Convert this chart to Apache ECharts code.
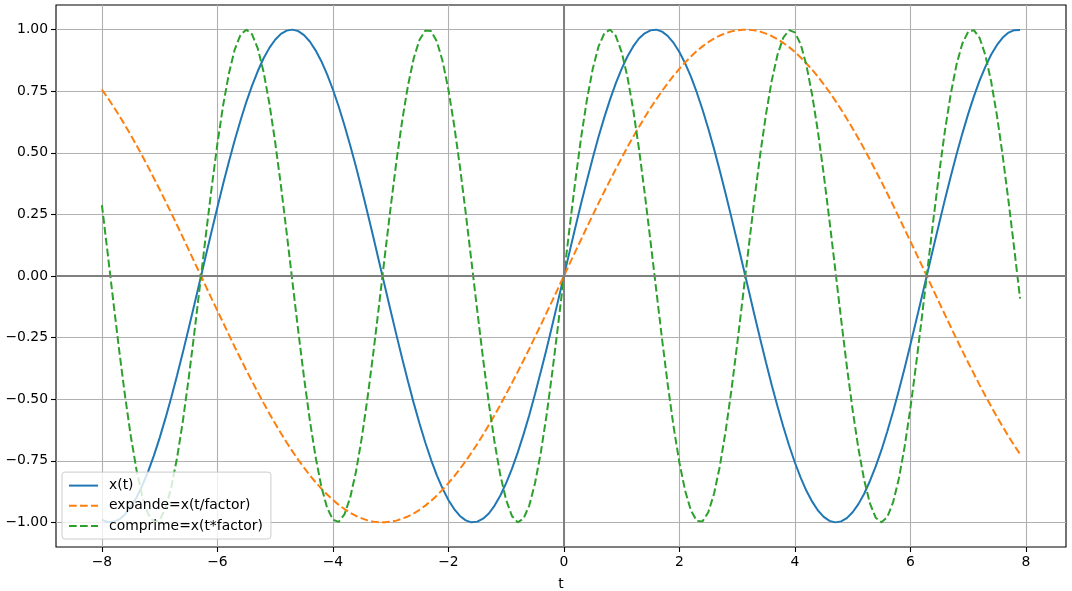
<!DOCTYPE html>
<html>
<head>
<meta charset="utf-8">
<script src="https://cdn.jsdelivr.net/npm/echarts@6/dist/echarts.min.js"></script>
<style>html,body{margin:0;padding:0;background:#fff}#c{width:1072px;height:591px}</style>
</head>
<body>
<div id="c"></div>
<script>
const t = [-8,-7.9,-7.8,-7.7,-7.6,-7.5,-7.4,-7.3,-7.2,-7.1,-7,-6.9,-6.8,-6.7,-6.6,-6.5,-6.4,-6.3,-6.2,-6.1,-6,-5.9,-5.8,-5.7,-5.6,-5.5,-5.4,-5.3,-5.2,-5.1,-5,-4.9,-4.8,-4.7,-4.6,-4.5,-4.4,-4.3,-4.2,-4.1,-4,-3.9,-3.8,-3.7,-3.6,-3.5,-3.4,-3.3,-3.2,-3.1,-3,-2.9,-2.8,-2.7,-2.6,-2.5,-2.4,-2.3,-2.2,-2.1,-2,-1.9,-1.8,-1.7,-1.6,-1.5,-1.4,-1.3,-1.2,-1.1,-1,-0.9,-0.8,-0.7,-0.6,-0.5,-0.4,-0.3,-0.2,-0.1,0,0.1,0.2,0.3,0.4,0.5,0.6,0.7,0.8,0.9,1,1.1,1.2,1.3,1.4,1.5,1.6,1.7,1.8,1.9,2,2.1,2.2,2.3,2.4,2.5,2.6,2.7,2.8,2.9,3,3.1,3.2,3.3,3.4,3.5,3.6,3.7,3.8,3.9,4,4.1,4.2,4.3,4.4,4.5,4.6,4.7,4.8,4.9,5,5.1,5.2,5.3,5.4,5.5,5.6,5.7,5.8,5.9,6,6.1,6.2,6.3,6.4,6.5,6.6,6.7,6.8,6.9,7,7.1,7.2,7.3,7.4,7.5,7.6,7.7,7.8,7.9];
const xt = [-0.989,-0.999,-0.998,-0.988,-0.968,-0.938,-0.899,-0.850,-0.794,-0.729,-0.657,-0.578,-0.494,-0.405,-0.312,-0.215,-0.117,-0.017,0.083,0.182,0.279,0.374,0.465,0.551,0.631,0.706,0.773,0.832,0.884,0.926,0.959,0.983,0.996,1.000,0.994,0.978,0.952,0.916,0.872,0.818,0.757,0.688,0.612,0.530,0.443,0.351,0.256,0.158,0.058,-0.042,-0.141,-0.239,-0.335,-0.427,-0.516,-0.599,-0.676,-0.746,-0.809,-0.863,-0.909,-0.946,-0.974,-0.992,-1.000,-0.997,-0.985,-0.964,-0.932,-0.891,-0.841,-0.783,-0.717,-0.644,-0.565,-0.479,-0.389,-0.296,-0.199,-0.100,
  0,0.100,0.199,0.296,0.389,0.479,0.565,0.644,0.717,0.783,0.841,0.891,0.932,0.964,0.985,0.997,1.000,0.992,0.974,0.946,0.909,0.863,0.809,0.746,0.676,0.599,0.516,0.427,0.335,0.239,0.141,0.042,-0.058,-0.158,-0.256,-0.351,-0.443,-0.530,-0.612,-0.688,-0.757,-0.818,-0.872,-0.916,-0.952,-0.978,-0.994,-1.000,-0.996,-0.983,-0.959,-0.926,-0.884,-0.832,-0.773,-0.706,-0.631,-0.551,-0.465,-0.374,-0.279,-0.182,-0.083,0.017,0.117,0.215,0.312,0.405,0.494,0.578,0.657,0.729,0.794,0.850,0.899,0.938,0.968,0.988,0.998,0.999];
const expande = [0.757,0.723,0.688,0.651,0.612,0.572,0.530,0.487,0.443,0.397,0.351,0.304,0.256,0.207,0.158,0.108,0.058,0.008,-0.042,-0.092,-0.141,-0.190,-0.239,-0.288,-0.335,-0.382,-0.427,-0.472,-0.516,-0.558,-0.599,-0.638,-0.676,-0.712,-0.746,-0.778,-0.809,-0.837,-0.863,-0.887,-0.909,-0.929,-0.946,-0.961,-0.974,-0.984,-0.992,-0.997,-1.000,-1.000,-0.997,-0.993,-0.985,-0.976,-0.964,-0.949,-0.932,-0.913,-0.891,-0.867,-0.841,-0.813,-0.783,-0.751,-0.717,-0.682,-0.644,-0.605,-0.565,-0.523,-0.479,-0.435,-0.389,-0.343,-0.296,-0.247,-0.199,-0.149,-0.100,-0.050,
  0,0.050,0.100,0.149,0.199,0.247,0.296,0.343,0.389,0.435,0.479,0.523,0.565,0.605,0.644,0.682,0.717,0.751,0.783,0.813,0.841,0.867,0.891,0.913,0.932,0.949,0.964,0.976,0.985,0.993,0.997,1.000,1.000,0.997,0.992,0.984,0.974,0.961,0.946,0.929,0.909,0.887,0.863,0.837,0.809,0.778,0.746,0.712,0.676,0.638,0.599,0.558,0.516,0.472,0.427,0.382,0.335,0.288,0.239,0.190,0.141,0.092,0.042,-0.008,-0.058,-0.108,-0.158,-0.207,-0.256,-0.304,-0.351,-0.397,-0.443,-0.487,-0.530,-0.572,-0.612,-0.651,-0.688,-0.723];
const comprime = [0.288,0.092,-0.108,-0.303,-0.486,-0.650,-0.788,-0.895,-0.966,-0.998,-0.991,-0.944,-0.859,-0.740,-0.592,-0.420,-0.232,-0.034,0.166,0.358,0.537,0.694,0.823,0.919,0.979,1.000,0.981,0.923,0.828,0.700,0.544,0.367,0.174,-0.025,-0.223,-0.412,-0.585,-0.734,-0.855,-0.941,-0.989,-0.998,-0.968,-0.899,-0.794,-0.657,-0.494,-0.312,-0.117,0.083,0.279,0.465,0.631,0.773,0.884,0.959,0.996,0.994,0.952,0.872,0.757,0.612,0.443,0.256,0.058,-0.141,-0.335,-0.516,-0.676,-0.809,-0.909,-0.974,-1.000,-0.985,-0.932,-0.841,-0.717,-0.565,-0.389,-0.199,
  0,0.199,0.389,0.565,0.717,0.841,0.932,0.985,1.000,0.974,0.909,0.809,0.676,0.516,0.335,0.141,-0.058,-0.256,-0.443,-0.612,-0.757,-0.872,-0.952,-0.994,-0.996,-0.959,-0.884,-0.773,-0.631,-0.465,-0.279,-0.083,0.117,0.312,0.494,0.657,0.794,0.899,0.968,0.998,0.989,0.941,0.855,0.734,0.585,0.412,0.223,0.025,-0.174,-0.367,-0.544,-0.700,-0.828,-0.923,-0.981,-1.000,-0.979,-0.919,-0.823,-0.694,-0.537,-0.358,-0.166,0.034,0.232,0.420,0.592,0.740,0.859,0.944,0.991,0.998,0.966,0.895,0.788,0.650,0.486,0.303,0.108,-0.092];
const xTicks = [-8,-6,-4,-2,0,2,4,6,8];
const yTicks = [-1,-0.75,-0.5,-0.25,0,0.25,0.5,0.75,1];
const names = ['x(t)','expande=x(t/factor)','comprime=x(t*factor)'];

const pairs = arr => t.map((v,i)=>[v,arr[i]]);
const minus = s => String(s).replace('-', '\u2212');
const font = 'DejaVu Sans';
const fs = 13.9;
const dash = [7.7, 3.3];

const chart = echarts.init(document.getElementById('c'), null, {renderer:'canvas'});
chart.setOption({
  animation:false,
  grid:{left:56,right:6,top:5,bottom:44,outerBoundsMode:'none',containLabel:false,show:true,borderColor:'#000',borderWidth:1.1,backgroundColor:'transparent'},
  legend:{
    z:20, zlevel:0,
    left:62, bottom:52, orient:'vertical', itemGap:6.2, itemWidth:29, itemHeight:14,
    padding:[6.5,8,6,6], backgroundColor:'rgba(255,255,255,0.8)', borderColor:'#cccccc', borderWidth:1, borderRadius:3,
    textStyle:{fontFamily:font,fontSize:fs,color:'#000',padding:[0,0,0,6]},
    itemStyle:{opacity:0},
    lineStyle:{opacity:1},
    data:names
  },
  xAxis:{
    type:'value', min:-8.795, max:8.695,
    name:'t', nameLocation:'middle', nameGap:30,
    nameTextStyle:{fontFamily:font,fontSize:fs,color:'#000'},
    axisLine:{show:false,onZero:false},
    axisTick:{show:true,inside:false,length:5,lineStyle:{color:'#000',width:1.1},customValues:xTicks},
    axisLabel:{fontFamily:font,fontSize:fs,color:'#000',margin:8,customValues:xTicks,formatter:v=>minus(v)},
    splitLine:{show:true,lineStyle:{color:'#b0b0b0',width:1.1}}
  },
  yAxis:{
    type:'value', min:-1.1, max:1.1,
    axisLine:{show:false,onZero:false},
    axisTick:{show:true,inside:false,length:5,lineStyle:{color:'#000',width:1.1},customValues:yTicks},
    axisLabel:{fontFamily:font,fontSize:fs,color:'#000',margin:8,customValues:yTicks,formatter:v=>minus(v.toFixed(2))},
    splitLine:{show:true,lineStyle:{color:'#b0b0b0',width:1.1}}
  },
  series:[
    {name:names[0],type:'line',data:pairs(xt),showSymbol:false,symbol:'none',z:2,
     lineStyle:{color:'#1f77b4',width:2},itemStyle:{color:'#1f77b4'},
     markLine:{silent:true,symbol:'none',label:{show:false},animation:false,
       lineStyle:{color:'#808080',width:2,type:'solid'},
       data:[{xAxis:0},{yAxis:0}]}},
    {name:names[1],type:'line',data:pairs(expande),showSymbol:false,symbol:'none',z:2,
     lineStyle:{color:'#ff7f0e',width:2,type:dash},itemStyle:{color:'#ff7f0e'}},
    {name:names[2],type:'line',data:pairs(comprime),showSymbol:false,symbol:'none',z:2,
     lineStyle:{color:'#2ca02c',width:2,type:dash},itemStyle:{color:'#2ca02c'}}
  ]
});
</script>
</body>
</html>
